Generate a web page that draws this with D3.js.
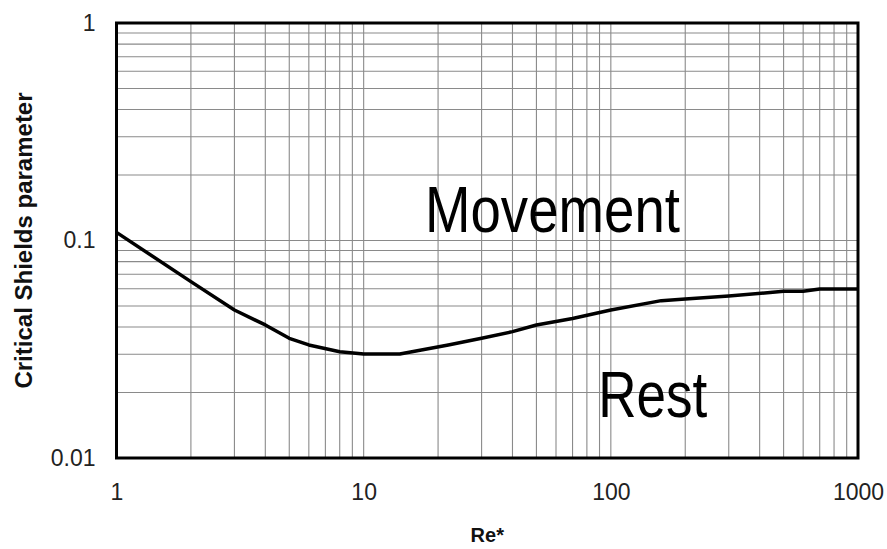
<!DOCTYPE html>
<html>
<head>
<meta charset="utf-8">
<script src="https://cdn.jsdelivr.net/npm/d3@7"></script>
<style>
  html, body { margin: 0; padding: 0; background: #fff; }
  svg { display: block; }
</style>
</head>
<body>
<svg id="chart" width="887" height="549"></svg>
<script>
// Data
const reValues = [1, 2, 3, 4, 5, 6, 8, 10, 14, 22, 30, 40, 50, 70, 100, 160, 200, 300, 500, 600, 700, 1000];
const shieldsValues = [0.109, 0.0647, 0.0479, 0.0409, 0.0355, 0.0331, 0.0308, 0.0301, 0.0301, 0.0331, 0.0355, 0.0381, 0.0409, 0.0438, 0.0479, 0.0529, 0.0538, 0.0555, 0.0584, 0.0584, 0.0598, 0.0598];
const xTickLabels = ["1", "10", "100", "1000"];
const yTickLabels = ["0.01", "0.1", "1"];
const xTickValues = [1, 10, 100, 1000];
const yTickValues = [0.01, 0.1, 1];
const regionLabels = ["Movement", "Rest"];
const regionAnchors = [[17.7, 0.1098], [89, 0.0155]];
const xTitle = "Re*";
const yTitle = "Critical Shields parameter";

const W = 887, H = 549;
const margin = { left: 116.5, top: 23, right: 29, bottom: 91 };
const svg = d3.select("#chart");
const x = d3.scaleLog().domain([1, 1000]).range([margin.left, W - margin.right]);
const y = d3.scaleLog().domain([0.01, 1]).range([H - margin.bottom, margin.top]);

// minor+major grid values
const gridX = [];
for (let d = 1; d < 1000; d *= 10) for (let k = 1; k <= 9; k++) gridX.push(d * k);
gridX.push(1000);
const gridY = [];
for (let d = 0.01; d < 0.99; d *= 10) for (let k = 1; k <= 9; k++) gridY.push(+(d * k).toPrecision(3));
gridY.push(1);

const grid = svg.append("g");
grid.selectAll("line.gx").data(gridX).enter().append("line")
  .attr("x1", d => x(d)).attr("x2", d => x(d))
  .attr("y1", y(0.01)).attr("y2", y(1))
  .attr("stroke", "#8a8a8a").attr("stroke-width", 1.1);
grid.selectAll("line.gy").data(gridY).enter().append("line")
  .attr("y1", d => y(d)).attr("y2", d => y(d))
  .attr("x1", x(1)).attr("x2", x(1000))
  .attr("stroke", "#8a8a8a").attr("stroke-width", 1.1);

// Region labels
const regionFont = "'Liberation Sans Narrow', 'Arial Narrow', 'Liberation Sans', Arial, sans-serif";
svg.append("text").text(regionLabels[0])
  .attr("x", x(regionAnchors[0][0])).attr("y", y(regionAnchors[0][1]))
  .attr("font-family", regionFont).attr("font-size", 65).attr("fill", "#000")
  .attr("textLength", 255).attr("lengthAdjust", "spacingAndGlyphs");
svg.append("text").text(regionLabels[1])
  .attr("x", x(regionAnchors[1][0])).attr("y", y(regionAnchors[1][1]))
  .attr("font-family", regionFont).attr("font-size", 65).attr("fill", "#000")
  .attr("textLength", 109).attr("lengthAdjust", "spacingAndGlyphs");

// Curve
const line = d3.line().x((d, i) => x(reValues[i])).y(d => y(d));
svg.append("path").datum(shieldsValues)
  .attr("d", line)
  .attr("fill", "none").attr("stroke", "#000").attr("stroke-width", 3.5)
  .attr("stroke-linejoin", "round");

// Frame
svg.append("rect")
  .attr("x", x(1)).attr("y", y(1))
  .attr("width", x(1000) - x(1)).attr("height", y(0.01) - y(1))
  .attr("fill", "none").attr("stroke", "#000").attr("stroke-width", 3);

// Axes
const font = "'Liberation Sans', Arial, Helvetica, sans-serif";
const xAxis = d3.axisBottom(x).tickValues(xTickValues)
  .tickFormat((d, i) => xTickLabels[i]).tickSize(0).tickPadding(26);
const gx = svg.append("g").attr("transform", `translate(0,${y(0.01)})`).call(xAxis);
gx.select(".domain").remove();
gx.selectAll("text").attr("font-family", font).attr("font-size", 23).attr("fill", "#222");

const yAxis = d3.axisLeft(y).tickValues(yTickValues)
  .tickFormat((d, i) => yTickLabels[i]).tickSize(0).tickPadding(21);
const gy = svg.append("g").attr("transform", `translate(${x(1)},0)`).call(yAxis);
gy.select(".domain").remove();
gy.selectAll("text").attr("font-family", font).attr("font-size", 23).attr("fill", "#222");

// Titles
svg.append("text").text(xTitle)
  .attr("x", (x(1) + x(1000)) / 2).attr("y", 542)
  .attr("text-anchor", "middle").attr("font-family", font)
  .attr("font-weight", "bold").attr("font-size", 20).attr("fill", "#111");
svg.append("text").text(yTitle)
  .attr("transform", `translate(32,${(y(0.01) + y(1)) / 2}) rotate(-90)`)
  .attr("text-anchor", "middle").attr("font-family", font)
  .attr("font-weight", "bold").attr("font-size", 24).attr("fill", "#111");
</script>
</body>
</html>
